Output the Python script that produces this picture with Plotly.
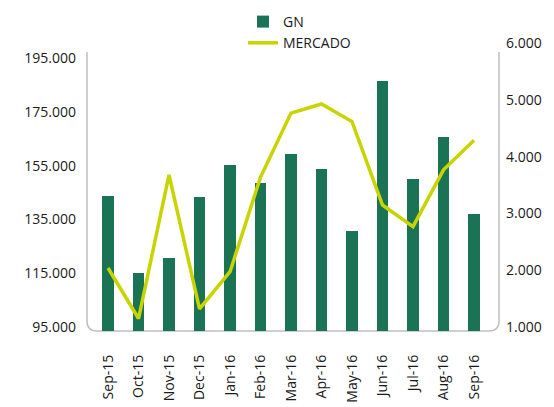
import plotly.graph_objects as go

months = ["Sep-15", "Oct-15", "Nov-15", "Dec-15", "Jan-16", "Feb-16", "Mar-16",
          "Apr-16", "May-16", "Jun-16", "Jul-16", "Aug-16", "Sep-16"]
gn = [143800, 115000, 120500, 143200, 155200, 148600, 159200,
      153900, 130800, 186300, 149900, 165500, 137000]
mercado = [2040, 1150, 3680, 1320, 1975, 3640, 4770,
           4930, 4620, 3150, 2770, 3770, 4290]

left_ticks = [95000, 115000, 135000, 155000, 175000, 195000]
right_ticks = [1000, 2000, 3000, 4000, 5000, 6000]

def fmt(v):
    return f"{v:,}".replace(",", ".")

GREEN = "#197354"
LIME = "#c8d400"
FONT = "Open Sans"

fig = go.Figure()
fig.add_trace(go.Bar(x=months, y=gn, name="GN", marker=dict(color=GREEN, line=dict(width=0)),
                     width=0.39, yaxis="y"))
fig.add_trace(go.Scatter(x=months, y=mercado, name="MERCADO", mode="lines",
                         line=dict(color=LIME, width=3.5), yaxis="y2"))

# plot area in pixels: x 87..499, y 43..331
W, H = 554, 407
L, R, T, B = 87, 55, 43, 76
pw = W - L - R
ph = H - T - B

def px(x):
    return (x - L) / pw

def py(y):
    return (H - B - y) / ph

r = 10
path = (f"M {px(87)},{py(52)} L {px(87)},{py(331 - r)} "
        f"Q {px(87)},{py(331)} {px(87 + r)},{py(331)} "
        f"L {px(499 - r)},{py(331)} Q {px(499)},{py(331)} {px(499)},{py(331 - r)} "
        f"L {px(499)},{py(52)}")

fig.update_layout(
    width=W, height=H,
    margin=dict(l=L, r=R, t=T, b=B, pad=0, autoexpand=False),
    paper_bgcolor="white", plot_bgcolor="white",
    font=dict(family=FONT, size=14, color="#1a1a1a"),
    showlegend=True,
    legend=dict(x=px(243), y=py(6), xanchor="left", yanchor="top",
                font=dict(size=14, color="#1a1a1a"), bgcolor="rgba(0,0,0,0)",
                tracegroupgap=0, itemwidth=30),
    bargap=0,
    xaxis=dict(type="category", range=[-0.69, 12.82], showgrid=False, zeroline=False,
               showline=False, tickangle=-90, ticks="", ticklabelstandoff=20,
               automargin=False, tickfont=dict(size=14, family=FONT)),
    yaxis=dict(range=[93510, 200600], tickvals=left_ticks, ticktext=[fmt(v) for v in left_ticks],
               showgrid=False, zeroline=False, showline=False, ticks="", automargin=False,
               ticklabelstandoff=10, tickfont=dict(size=14, family=FONT)),
    yaxis2=dict(range=[930, 6005], tickvals=right_ticks, ticktext=[fmt(v) for v in right_ticks],
                overlaying="y", side="right", showgrid=False, zeroline=False, showline=False,
                ticks="", ticklabelstandoff=6, automargin=False, tickfont=dict(size=14, family=FONT)),
    shapes=[dict(type="path", path=path, xref="paper", yref="paper",
                 line=dict(color="#bfbfbf", width=1.5), layer="below")],
)

fig.write_html("out.html", config={"displayModeBar": False},
               post_script="document.body.style.margin='0';")
